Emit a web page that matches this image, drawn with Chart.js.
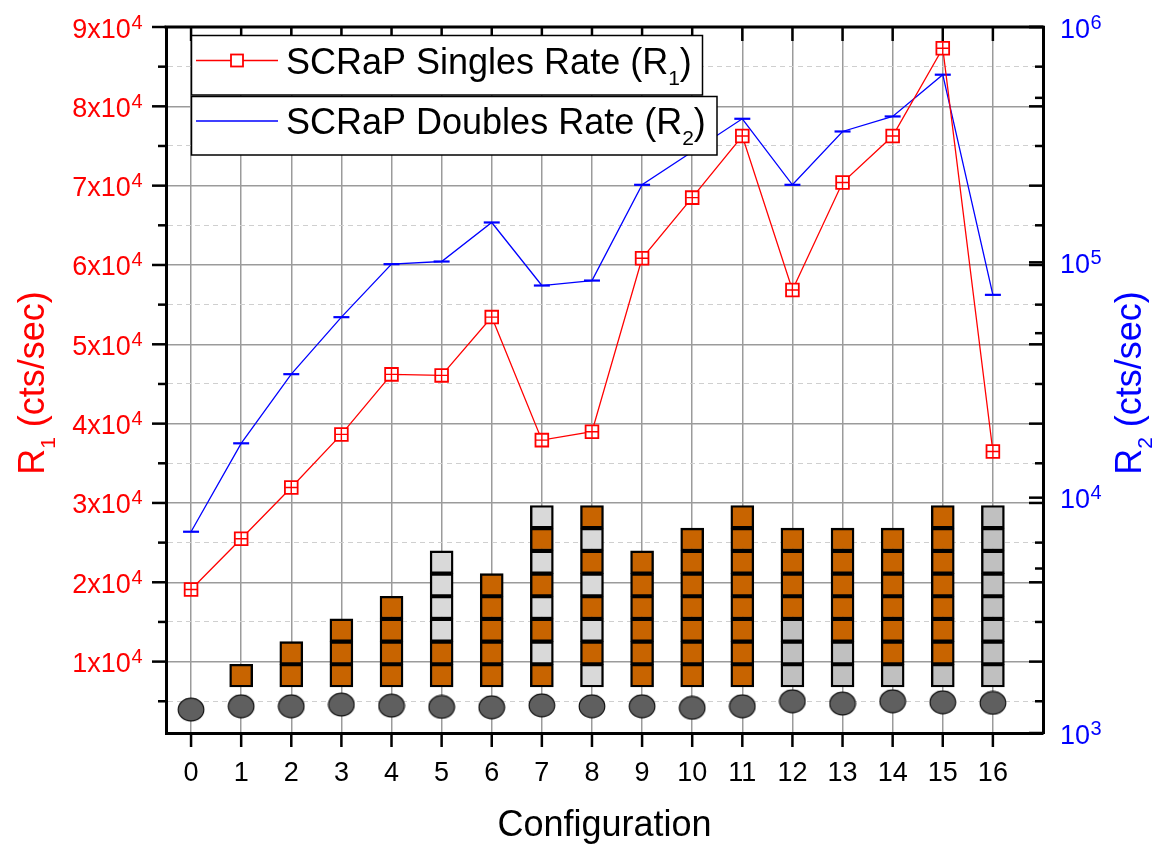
<!DOCTYPE html>
<html>
<head>
<meta charset="utf-8">
<title>SCRaP rates by configuration</title>
<script src="https://cdn.jsdelivr.net/npm/chart.js@4.4.1/dist/chart.umd.min.js"></script>
<style>
  html, body { margin: 0; padding: 0; background: #fff; }
  #wrap { width: 1156px; height: 844px; }
</style>
</head>
<body>
<div id="wrap"><canvas id="rates" width="1156" height="844"></canvas></div>
<script>
// configuration number (x axis)
const configs = [0, 1, 2, 3, 4, 5, 6, 7, 8, 9, 10, 11, 12, 13, 14, 15, 16];
// R1 singles rate, cts/sec (left axis)
const singlesRate = [19090, 25480, 31950, 38640, 46210, 46080, 53430, 37920, 38980,
                     60840, 68490, 76260, 56840, 70390, 76260, 87330, 36490];
// R2 doubles rate, cts/sec (right axis, log)
const doublesRate = [7165, 17020, 33480, 58480, 98240, 100800, 147700, 79700, 83670,
                     213500, 295000, 407400, 213500, 359800, 416800, 627100, 72750];
// block stack under each configuration, bottom to top
// O = orange block, L = light grey block, G = grey block
const stacks = ['', 'O', 'OO', 'OOO', 'OOOO', 'OOLLLL', 'OOOOO', 'OLOLOLOL', 'LOLOLOLO',
                'OOOOOO', 'OOOOOOO', 'OOOOOOOO', 'GGGOOOO', 'GGOOOOO', 'GOOOOOO', 'GOOOOOOO', 'GGGGGGGG'];
// height of the source disc under each stack (left axis units)
const discLevel = [3950, 4370, 4370, 4580, 4450, 4290, 4240, 4490, 4370,
                   4370, 4170, 4370, 5000, 4710, 5000, 4870, 4790];
// ticks
const leftTicks = [10000, 20000, 30000, 40000, 50000, 60000, 70000, 80000, 90000];
const gridLevels = [5000, 10000, 15000, 20000, 25000, 30000, 35000, 40000, 45000,
                    50000, 55000, 60000, 65000, 70000, 75000, 80000, 85000, 90000];
const rightTicks = [1e3, 1e4, 1e5, 1e6];
const rightMinor = [5e3, 5e4, 5e5];

const blockBase = 6800, blockSize = 2860;
const blockColors = { O: '#c86400', L: '#d9d9d9', G: '#c0c0c0' };
const FONT = '"Liberation Sans", Arial, Helvetica, sans-serif';
const font = s => s + 'px ' + FONT;

var blocks = [], blockFill = [];
stacks.forEach(function (s, i) {
    s.split('').forEach(function (c, k) {
        blocks.push({ x: configs[i], y: [blockBase + k * blockSize, blockBase + (k + 1) * blockSize] });
        blockFill.push(blockColors[c]);
    });
});

// grey disc marker
var disc = document.createElement('canvas');
disc.width = 28; disc.height = 25;
var dc = disc.getContext('2d');
dc.beginPath();
dc.ellipse(14, 12.5, 12.8, 11.4, 0, 0, 2 * Math.PI);
dc.fillStyle = '#5f5f5f';
dc.fill();
dc.lineWidth = 1.2;
dc.strokeStyle = '#111';
dc.stroke();

function seg(ctx, x1, y1, x2, y2) {
    ctx.beginPath(); ctx.moveTo(x1, y1); ctx.lineTo(x2, y2); ctx.stroke();
}

// text with superscript, baseline at y
function drawPow(ctx, base, exp, x, y, align) {
    ctx.font = font(27);
    var wb = ctx.measureText(base).width;
    ctx.font = font(20);
    var we = ctx.measureText(exp).width;
    var x0 = align === 'right' ? x - wb - we : x;
    ctx.textAlign = 'left';
    ctx.textBaseline = 'alphabetic';
    ctx.font = font(27);
    ctx.fillText(base, x0, y);
    ctx.font = font(20);
    ctx.fillText(exp, x0 + wb + 0.5, y - 9);
}

// text with subscript, left aligned at baseline
function richWidth(ctx, pre, sub, post, size, subSize) {
    ctx.font = font(size);
    var w = ctx.measureText(pre).width + ctx.measureText(post).width;
    ctx.font = font(subSize);
    return w + ctx.measureText(sub).width;
}
function drawRich(ctx, pre, sub, post, x, y, size, subSize) {
    ctx.textAlign = 'left';
    ctx.textBaseline = 'alphabetic';
    ctx.font = font(size);
    ctx.fillText(pre, x, y);
    x += ctx.measureText(pre).width;
    ctx.font = font(subSize);
    ctx.fillText(sub, x, y + 11);
    x += ctx.measureText(sub).width;
    ctx.font = font(size);
    ctx.fillText(post, x, y);
}

var decor = {
    id: 'decor',
    afterDraw: function (chart) {
        var ctx = chart.ctx, a = chart.chartArea;
        var sx = chart.scales.x, sy = chart.scales.y, sy2 = chart.scales.y2;
        ctx.save();
        ctx.strokeStyle = '#000';
        ctx.lineWidth = 3;
        seg(ctx, a.left - 1.5, a.top, a.right + 1.5, a.top);

        // tick marks
        ctx.lineWidth = 2.5;
        gridLevels.forEach(function (v) {
            var py = sy.getPixelForValue(v);
            var len = v % 10000 ? 8 : 14;
            seg(ctx, a.left - len, py, a.left, py);
            seg(ctx, a.right, py, a.right - len, py);
        });
        rightTicks.forEach(function (v) {
            var py = sy2.getPixelForValue(v);
            seg(ctx, a.right, py, a.right - 14, py);
        });
        rightMinor.forEach(function (v) {
            var py = sy2.getPixelForValue(v);
            seg(ctx, a.right, py, a.right - 8, py);
        });
        configs.forEach(function (c) {
            var px = sx.getPixelForValue(c);
            seg(ctx, px, a.bottom, px, a.bottom + 14);
            seg(ctx, px, a.top, px, a.top + 14);
        });

        // tick labels
        ctx.fillStyle = '#ff0000';
        leftTicks.forEach(function (v) {
            var e = Math.floor(Math.log10(v) + 1e-9);
            var m = Math.round(v / Math.pow(10, e));
            drawPow(ctx, m + 'x10', String(e), 142, sy.getPixelForValue(v) + 10.5, 'right');
        });
        ctx.fillStyle = '#0000ff';
        rightTicks.forEach(function (v) {
            drawPow(ctx, '10', String(Math.round(Math.log10(v))), 1060, sy2.getPixelForValue(v) + 10.5, 'left');
        });
        ctx.fillStyle = '#000';
        ctx.font = font(27);
        ctx.textAlign = 'center';
        ctx.textBaseline = 'alphabetic';
        configs.forEach(function (c) {
            ctx.fillText(String(c), sx.getPixelForValue(c), 780.5);
        });

        // axis titles
        ctx.font = font(36);
        ctx.fillText('Configuration', (a.left + a.right) / 2, 836);

        var cy = (a.top + a.bottom) / 2 + 3;
        var w1 = richWidth(ctx, 'R', '1', ' (cts/sec)', 36, 21);
        ctx.save();
        ctx.translate(44, cy);
        ctx.rotate(-Math.PI / 2);
        ctx.fillStyle = '#ff0000';
        drawRich(ctx, 'R', '1', ' (cts/sec)', -w1 / 2, 0, 36, 21);
        ctx.restore();

        ctx.save();
        ctx.translate(1141, cy);
        ctx.rotate(-Math.PI / 2);
        ctx.fillStyle = '#0000ff';
        drawRich(ctx, 'R', '2', ' (cts/sec)', -w1 / 2, 0, 36, 21);
        ctx.restore();

        // legend boxes
        ctx.lineWidth = 1.5;
        ctx.strokeStyle = '#000';
        ctx.fillStyle = '#fff';
        ctx.fillRect(191.5, 35.5, 511, 59.5);
        ctx.strokeRect(191.5, 35.5, 511, 59.5);
        ctx.fillRect(191.5, 96.5, 525.5, 58.5);
        ctx.strokeRect(191.5, 96.5, 525.5, 58.5);

        ctx.lineWidth = 1.3;
        ctx.strokeStyle = '#ff0000';
        seg(ctx, 196, 60.5, 278, 60.5);
        ctx.fillStyle = '#fff';
        ctx.lineWidth = 1.8;
        ctx.fillRect(231, 54.5, 12, 12);
        ctx.strokeRect(231, 54.5, 12, 12);
        ctx.lineWidth = 1.3;
        ctx.strokeStyle = '#0000ff';
        seg(ctx, 196, 121, 278, 121);

        ctx.fillStyle = '#000';
        drawRich(ctx, 'SCRaP Singles Rate (R', '1', ')', 286, 73.5, 36, 21);
        drawRich(ctx, 'SCRaP Doubles Rate (R', '2', ')', 286, 134, 36, 21);
        ctx.restore();
    }
};

var ctx = document.getElementById('rates');
var chart = new Chart(ctx, {
    data: {
        datasets: [{
            type: 'bar',
            label: 'stack',
            data: blocks,
            backgroundColor: blockFill,
            borderColor: '#000',
            borderWidth: 2.4,
            borderSkipped: false,
            barThickness: 23,
            grouped: false,
            yAxisID: 'y',
            order: 4
        }, {
            type: 'line',
            label: 'disc',
            data: configs.map(function (c, i) { return { x: c, y: discLevel[i] }; }),
            showLine: false,
            pointStyle: disc,
            yAxisID: 'y',
            order: 3
        }, {
            type: 'line',
            label: 'SCRaP Doubles Rate (R2)',
            data: configs.map(function (c, i) { return { x: c, y: doublesRate[i] }; }),
            borderColor: '#0000ff',
            borderWidth: 1.3,
            pointStyle: 'line',
            pointRadius: 8,
            pointBorderWidth: 2.2,
            pointBorderColor: '#0000ff',
            yAxisID: 'y2',
            order: 2
        }, {
            type: 'line',
            label: 'SCRaP Singles Rate (R1)',
            data: configs.map(function (c, i) { return { x: c, y: singlesRate[i] }; }),
            borderColor: '#ff0000',
            borderWidth: 1.3,
            pointStyle: 'rect',
            pointRadius: 9,
            pointBorderWidth: 1.8,
            pointBorderColor: '#ff0000',
            pointBackgroundColor: '#fff',
            yAxisID: 'y',
            order: 1
        }, {
            type: 'line',
            label: 'singles error',
            data: configs.map(function (c, i) { return { x: c, y: singlesRate[i] }; }),
            showLine: false,
            pointStyle: 'cross',
            pointRadius: 6,
            pointBorderWidth: 1.4,
            pointBorderColor: '#ff0000',
            yAxisID: 'y',
            order: 0
        }]
    },
    options: {
        responsive: false,
        animation: false,
        layout: { padding: { top: 27, left: 0, right: 0, bottom: 0 } },
        plugins: {
            legend: { display: false },
            tooltip: { enabled: false }
        },
        scales: {
            x: {
                type: 'linear',
                offset: false,
                min: -0.5,
                max: 17,
                afterBuildTicks: function (s) { s.ticks = configs.map(function (v) { return { value: v }; }); },
                afterFit: function (s) { s.height = 111; },
                ticks: { display: false },
                grid: { color: '#9b9b9b', lineWidth: 1.5, drawTicks: false, offset: false },
                border: { color: '#000', width: 3 }
            },
            y: {
                type: 'linear',
                position: 'left',
                min: 1000,
                max: 90000,
                afterBuildTicks: function (s) { s.ticks = gridLevels.map(function (v) { return { value: v }; }); },
                afterFit: function (s) { s.width = 166; },
                ticks: { display: false },
                grid: {
                    drawTicks: false,
                    color: function (c) { return c.tick && c.tick.value % 10000 ? '#cfcfcf' : '#9b9b9b'; },
                    lineWidth: function (c) { return c.tick && c.tick.value % 10000 ? 1 : 1.5; }
                },
                border: {
                    color: '#000',
                    width: 3,
                    dash: function (c) { return c.tick && c.tick.value % 10000 ? [5, 4] : []; }
                }
            },
            y2: {
                type: 'logarithmic',
                position: 'right',
                min: 1000,
                max: 1000000,
                afterFit: function (s) { s.width = 113; },
                ticks: { display: false },
                grid: { drawOnChartArea: false, drawTicks: false },
                border: { color: '#000', width: 3 }
            }
        }
    },
    plugins: [decor]
});
</script>
</body>
</html>
